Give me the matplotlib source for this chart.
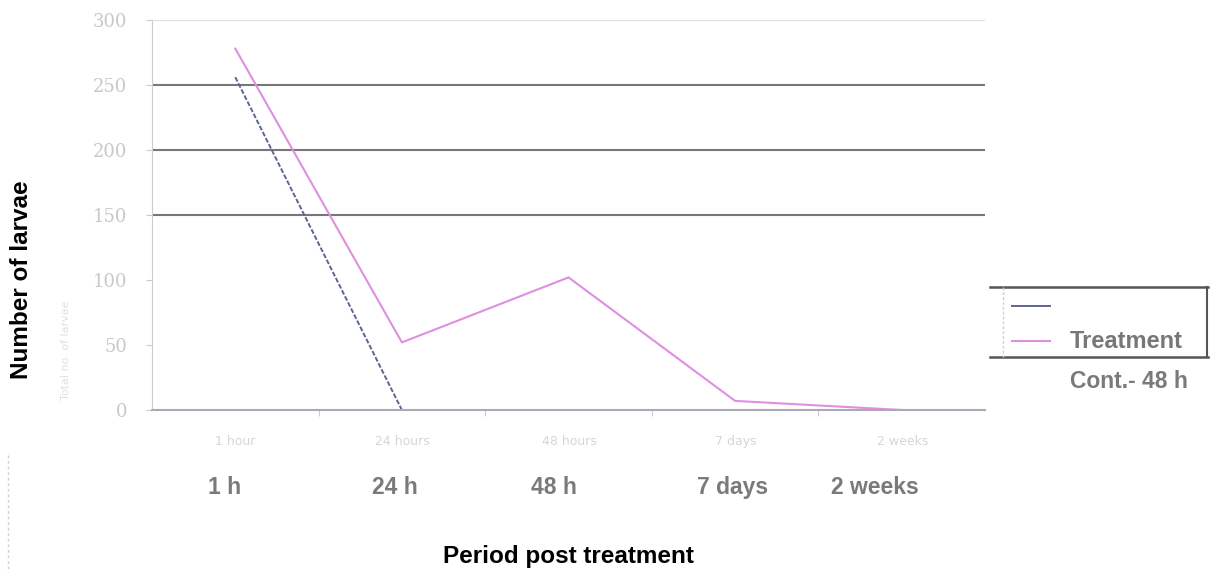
import numpy as np
import matplotlib.pyplot as plt
from matplotlib.lines import Line2D

# larvae counts after treatment
periods = ['1 h', '24 h', '48 h', '7 days', '2 weeks']
faint_labels = ['1 hour', '24 hours', '48 hours', '7 days', '2 weeks']
control = [256, 0, 0, 0, 0]
treatment = [278, 52, 102, 7, 0]
yticks = [0, 50, 100, 150, 200, 250, 300]

W, H = 1214, 574
fig = plt.figure(figsize=(W / 100, H / 100), dpi=100)
ax = fig.add_axes([152 / W, 1 - 410 / H, (985 - 152) / W, 390 / H])

x = np.arange(len(periods))
ax.plot(x, control, color='#5d6592', lw=1.4, ls=(0, (2.5, 1)))
ax.plot(x, treatment, color='#e08ee0', lw=1.5)

ax.set_xlim(-0.5, 4.5)
ax.set_ylim(0, 300)

# horizontal grid: only some lines visible
for v, c in [(300, '#dddddd'), (250, '#777777'), (200, '#777777'), (150, '#777777')]:
    ax.axhline(v, color=c, lw=1.5, zorder=0)

ax.set_yticks(yticks)
ax.set_yticklabels([str(v) for v in yticks], family='DejaVu Serif',
                   fontsize=13, color='#c8c8c8')
ax.tick_params(axis='y', length=4, color='#cccccc', pad=14)
ax.set_xticks([0.5, 1.5, 2.5, 3.5])
ax.set_xticklabels([])
ax.tick_params(axis='x', length=4, color='#ccccdd', direction='out')

for s in ['top', 'right']:
    ax.spines[s].set_visible(False)
ax.spines['left'].set_color('#cccccc')
ax.spines['left'].set_linestyle((0, (2, 1)))
ax.spines['bottom'].set_color('#a9a9b8')
ax.spines['bottom'].set_linewidth(1.5)

# faint category text and bold labels under the axis
label_x = [225, 395, 554, 733, 875]
for i, (lab, fl) in enumerate(zip(periods, faint_labels)):
    fig.text((235 + 167 * i) / W, 1 - 445 / H, fl, ha='center', va='baseline',
             fontsize=9, color='#d6d6d6')
    fig.text(label_x[i] / W, 1 - 494 / H, lab, ha='center', va='baseline',
             fontsize=16.5, fontweight='bold', color='#7a7a7a',
             family='Liberation Sans')

fig.text(568 / W, 1 - 557 / H, 'Period post treatment', ha='center', va='center',
         fontsize=17.5, fontweight='bold', family='Liberation Sans')
fig.text(22 / W, 1 - 280 / H, 'Number of larvae', ha='center', va='center',
         rotation=90, fontsize=17.5, fontweight='bold', family='Liberation Sans')

# faint marks at the left edge
fig.add_artist(Line2D([8 / W, 8 / W], [1 - 455 / H, 1 - 572 / H],
                      color='#d0d0d0', lw=1, ls=(0, (2, 2))))
fig.text(66 / W, 1 - 350 / H, 'Total no. of larvae', rotation=90, ha='center',
         va='center', fontsize=8, color='#e0e0e0')

# legend box
fig.add_artist(Line2D([990 / W, 1208 / W], [1 - 287 / H] * 2, color='#555555', lw=1.8))
fig.add_artist(Line2D([990 / W, 1208 / W], [1 - 357 / H] * 2, color='#555555', lw=1.8))
fig.add_artist(Line2D([1207 / W] * 2, [1 - 287 / H, 1 - 357 / H], color='#555555', lw=1.5))
fig.add_artist(Line2D([1003 / W] * 2, [1 - 287 / H, 1 - 357 / H], color='#d0d0d0',
                      lw=1, ls=(0, (2, 1.5))))
fig.add_artist(Line2D([1012 / W, 1050 / W], [1 - 306 / H] * 2, color='#5d6592', lw=1.4))
fig.add_artist(Line2D([1012 / W, 1050 / W], [1 - 341 / H] * 2, color='#e08ee0', lw=1.5))
fig.text(1070 / W, 1 - 341 / H, 'Treatment', ha='left', va='center', fontsize=17,
         fontweight='bold', color='#777777', family='Liberation Sans')
fig.text(1070 / W, 1 - 381 / H, 'Cont.- 48 h', ha='left', va='center', fontsize=16.5,
         fontweight='bold', color='#7a7a7a', family='Liberation Sans')

fig.savefig('out.png', dpi=100)
